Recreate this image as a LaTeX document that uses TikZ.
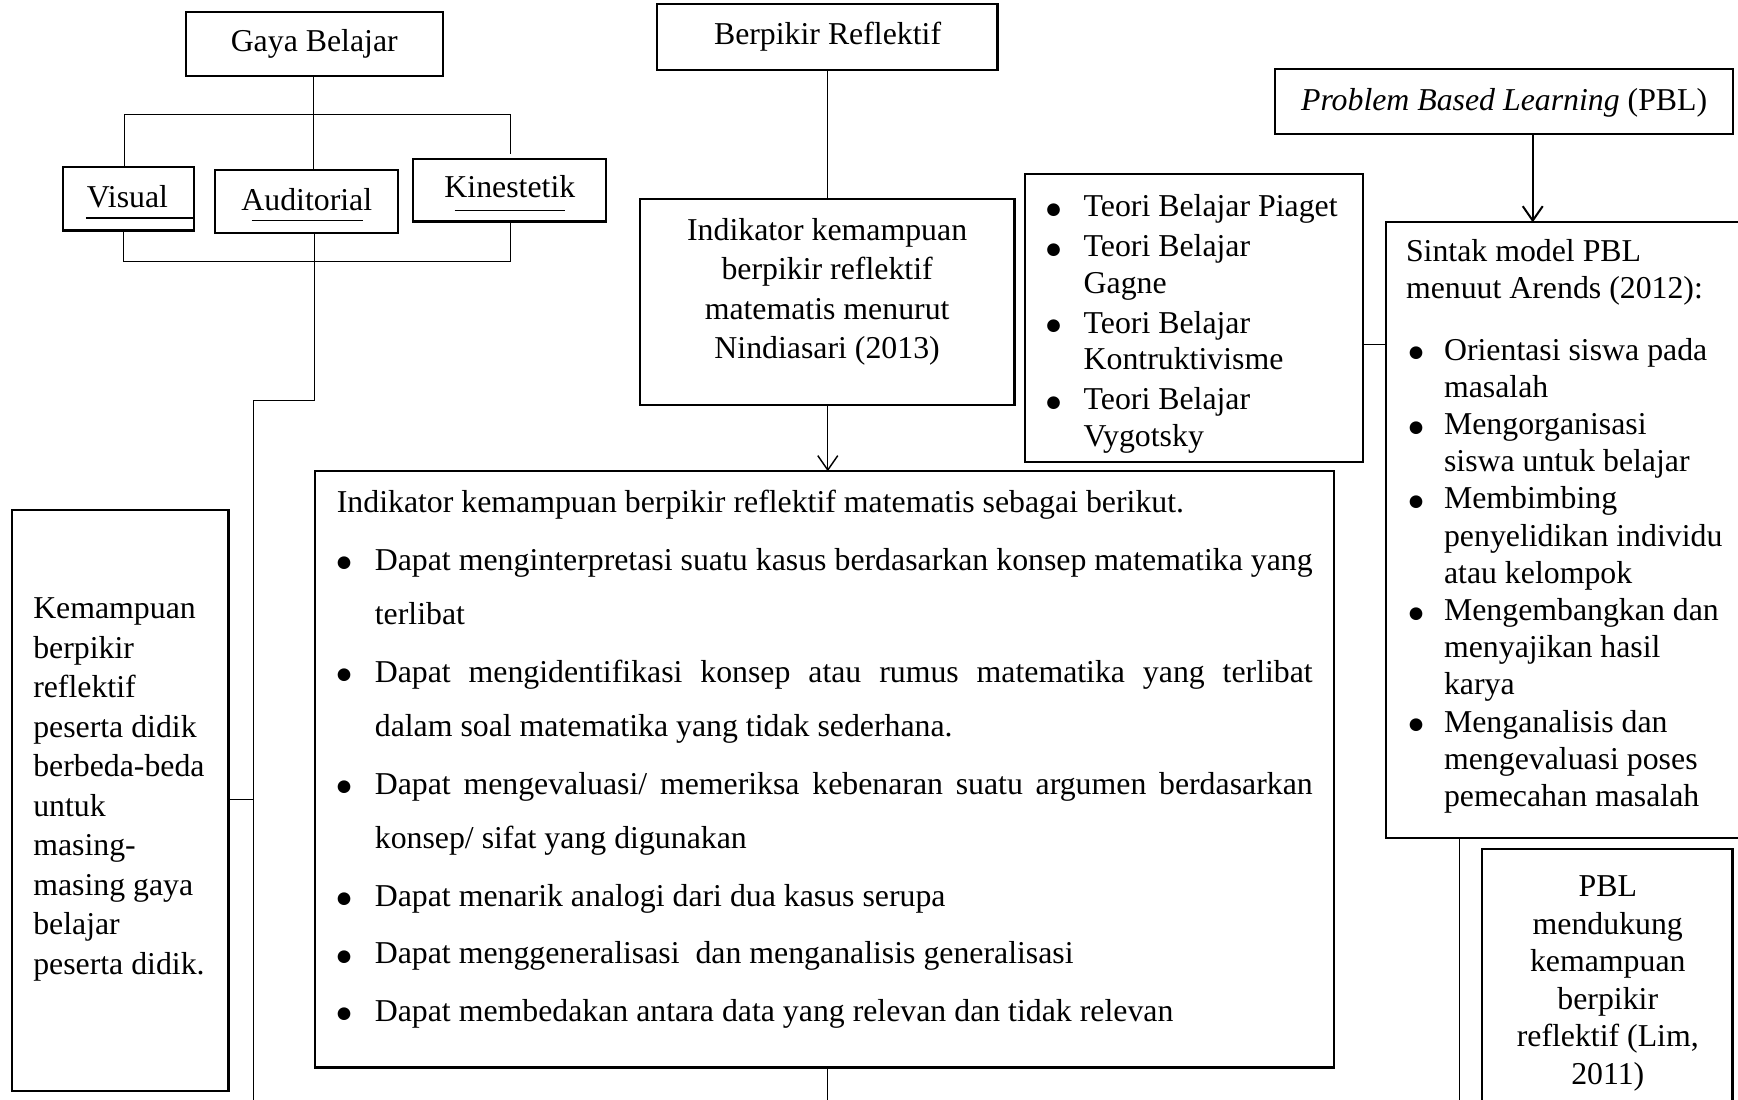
\documentclass[tikz,border=0pt]{standalone}
\usepackage{fontspec}
\setmainfont{Liberation Serif}
\newfontfamily\dejavu{DejaVu Sans}
\usetikzlibrary{arrows.meta}
\newcommand\fsz[1]{\fontsize{28.7pt}{#1}\selectfont}
\newcommand\bigbullet{\raisebox{2.2pt}{\dejavu\fontsize{15pt}{15pt}\selectfont ●}}
\newcommand\bul[3]{\par\hangindent=#2\hangafter=1\noindent\hspace*{#1}\makebox[\dimexpr#2-#1\relax][l]{\bigbullet}\ignorespaces#3}
\begin{document}
\begin{tikzpicture}[x=1pt,y=-1pt,
  box/.style={draw,line width=2pt,inner sep=0pt,outer sep=0pt},
  conn/.style={line width=1pt},
  arr/.style={line width=1.3pt,-{Straight Barb[length=13pt,width=18pt]}},
  lbl/.style={inner sep=0pt,outer sep=0pt,anchor=base,font=\fsz{34pt}},
  blk/.style={inner sep=0pt,outer sep=0pt,anchor=base west}]
\useasboundingbox (0,0) rectangle (1568,992);

% boxes
\node[box,minimum width=231.9pt,minimum height=57.8pt] (gaya) at (283.55,39.6) {};
\node[box,minimum width=307pt,minimum height=59.6pt] (ber) at (746.4,33.4) {};
\node[box,minimum width=413.3pt,minimum height=58.4pt] (pbl) at (1357.15,91.8) {};
\node[box,minimum width=117.7pt,minimum height=57.1pt] (vis) at (115.95,179.45) {};
\node[box,minimum width=165.5pt,minimum height=57.1pt] (aud) at (276.45,181.95) {};
\node[box,minimum width=174pt,minimum height=56.4pt] (kin) at (459.8,171.6) {};
\node[box,minimum width=338pt,minimum height=185.9pt] (nin) at (746.2,272.45) {};
\node[box,minimum width=305pt,minimum height=259.2pt] (teori) at (1076.9,286.9) {};
\node[box,minimum width=324.5pt,minimum height=555.7pt] (sintak) at (1412.75,478.45) {};
\node[box,minimum width=919.2pt,minimum height=537.8pt] (big) at (743.9,694.1) {};
\node[box,minimum width=195.5pt,minimum height=523.8pt] (kem) at (108.45,722.1) {};
\node[box,minimum width=226pt,minimum height=234pt] (dukung) at (1450,883) {};

% single-line labels
\node[lbl] (tgaya) at (283.5,46.4) {Gaya Belajar};
\node[lbl] (tber) at (746.6,40) {Berpikir Reflektif};
\node[lbl] (tpbl) at (1357,99.4) {\textit{Problem Based Learning} (PBL)};
\node[lbl] (tvis) at (115,187.3) {Visual};
\node[lbl] (taud) at (276.8,189.8) {Auditorial};
\node[lbl] (tkin) at (460,178.4) {Kinestetik};

% underlines
\draw[line width=2pt] (77.4,196.9) -- (174.8,196.9);
\draw[line width=1pt] (226.9,199) -- (327.1,199);
\draw[line width=1pt] (410.2,189.8) -- (510.1,189.8);

% text blocks
\node[blk] (tnin) at (577.2,217) {\parbox[t]{338pt}{\fsz{35.6pt}\centering Indikator kemampuan\\berpikir reflektif\\matematis menurut\\Nindiasari (2013)}};

\node[blk] (tteori) at (944,195.5) {\parbox[t]{283pt}{\fsz{33pt}\raggedright\parskip=3pt
  \bul{0pt}{33.7pt}{Teori Belajar Piaget}
  \bul{0pt}{33.7pt}{Teori Belajar\newline Gagne}
  \bul{0pt}{33.7pt}{Teori Belajar\newline Kontruktivisme}
  \bul{0pt}{33.7pt}{Teori Belajar\newline Vygotsky}}};

\node[blk] (tsin) at (1268.5,236.1) {\parbox[t]{295pt}{\fsz{33.56pt}\raggedright Sintak model PBL\newline menuut Arends (2012):\par\vspace{21.7pt}
  \bul{2.5pt}{34.3pt}{Orientasi siswa pada\newline masalah}
  \bul{2.5pt}{34.3pt}{Mengorganisasi\newline siswa untuk belajar}
  \bul{2.5pt}{34.3pt}{Membimbing\newline penyelidikan individu\newline atau kelompok}
  \bul{2.5pt}{34.3pt}{Mengembangkan dan\newline menyajikan hasil\newline karya}
  \bul{2.5pt}{34.3pt}{Menganalisis dan\newline mengevaluasi poses\newline pemecahan masalah}}};

\node[blk] (tkem) at (30,558) {\parbox[t]{175pt}{\fsz{35.67pt}\raggedright Kemampuan\\berpikir\\reflektif\\peserta didik\\berbeda-beda\\untuk\\masing-\\masing gaya\\belajar\\peserta didik.}};

\node[blk] (tduk) at (1340.5,809) {\parbox[t]{220pt}{\fsz{33.8pt}\centering PBL\\mendukung\\kemampuan\\berpikir\\reflektif (Lim,\\2011)}};

\node[blk] (tbig) at (303.9,462.5) {\parbox[t]{880.4pt}{\fsz{49pt}\parskip=3pt\tolerance=10000\hbadness=10000 Indikator kemampuan berpikir reflektif matematis sebagai berikut.
  \bul{0pt}{34.3pt}{Dapat menginterpretasi suatu kasus berdasarkan konsep matematika yang\linebreak terlibat}
  \bul{0pt}{34.3pt}{Dapat mengidentifikasi konsep atau rumus matematika yang terlibat\linebreak dalam soal matematika yang tidak sederhana.}
  \bul{0pt}{34.3pt}{Dapat mengevaluasi/ memeriksa kebenaran suatu argumen berdasarkan\linebreak konsep/ sifat yang digunakan}
  \bul{0pt}{34.3pt}{Dapat menarik analogi dari dua kasus serupa}
  \bul{0pt}{34.3pt}{Dapat menggeneralisasi \ dan menganalisis generalisasi}
  \bul{0pt}{34.3pt}{Dapat membedakan antara data yang relevan dan tidak relevan}}};

% connectors
\coordinate (gx) at (282.9,0);
\coordinate (gl) at (112.4,103.4);
\coordinate (gr) at (460.2,103.4);
\coordinate (gre) at (460.2,139.1);
\draw[conn] (gaya.south -| gx) -- (aud.north -| gx);
\draw[conn] (vis.north -| gl) -- (gl) -- (gr) -- (gre);
\coordinate (bl) at (111.6,235.8);
\coordinate (br) at (460.9,235.8);
\draw[conn] (vis.south -| bl) -- (bl) -- (br) -- (kin.south -| br);
\coordinate (ax) at (283.6,361);
\coordinate (lx) at (228.3,361);
\coordinate (lend) at (228.3,995);
\draw[conn] (aud.south -| ax) -- (ax) -- (lx) -- (lend);
\coordinate (ky) at (0,721.5);
\draw[conn] (kem.east |- ky) -- (lx |- ky);
\coordinate (bx) at (746.8,0);
\draw[conn] (ber.south -| bx) -- (nin.north -| bx);
\draw[arr] (nin.south -| bx) -- (big.north -| bx);
\coordinate (bend) at (746.8,995);
\draw[conn] (big.south -| bx) -- (bend);
\coordinate (px) at (1382.8,0);
\draw[arr,line width=1.8pt] (pbl.south -| px) -- (sintak.north -| px);
\coordinate (ty) at (0,311.2);
\draw[conn] (teori.east |- ty) -- (sintak.west |- ty);
\coordinate (sx) at (1316.5,0);
\coordinate (send) at (1316.5,995);
\draw[conn] (sintak.south -| sx) -- (send);
\end{tikzpicture}
\end{document}
